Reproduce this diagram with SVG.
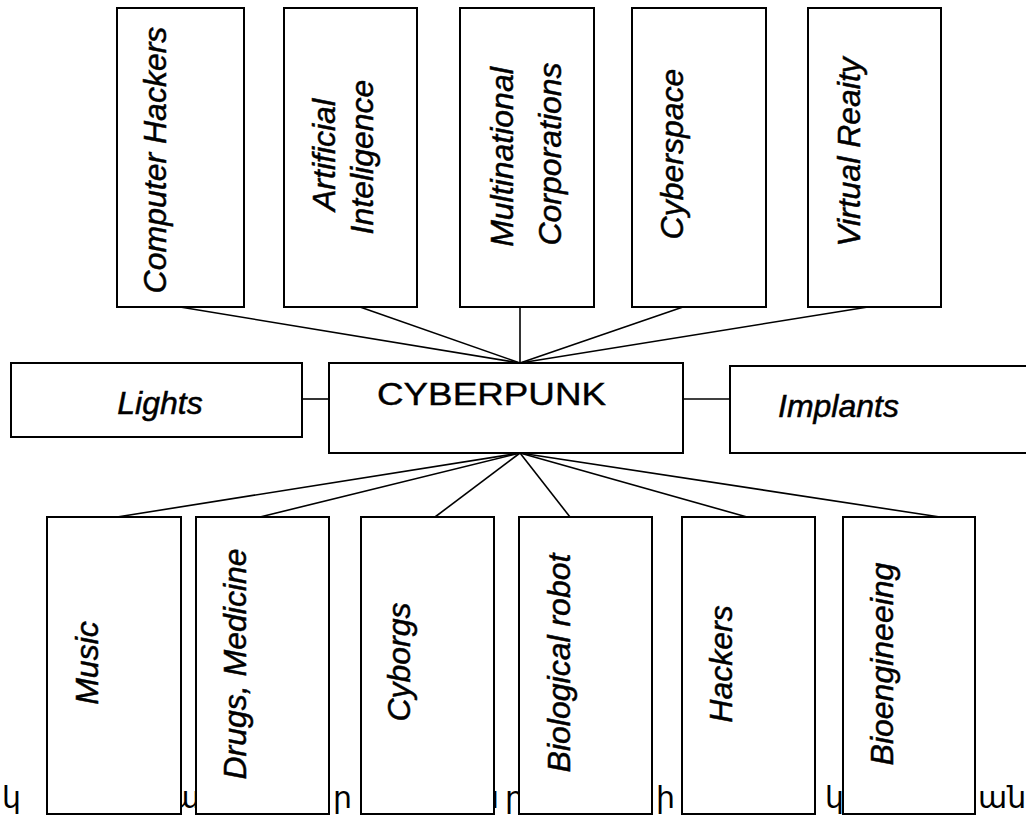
<svg xmlns="http://www.w3.org/2000/svg" width="1026" height="816" viewBox="0 0 1026 816">
  <style>
    .box { fill: #ffffff; stroke: #000000; stroke-width: 2; }
    .link { stroke: #000000; stroke-width: 1.6; fill: none; }
    .lbl { font-family: "Liberation Sans", Arial, sans-serif; font-size: 32px; font-style: italic; fill: #000000; stroke: #000000; stroke-width: 0.5; text-anchor: middle; }
    .hub { font-family: "Liberation Sans", Arial, sans-serif; font-size: 32px; fill: #000000; stroke: #000000; stroke-width: 0.4; }
    .arm { font-family: "DejaVu Sans", sans-serif; font-size: 30px; fill: #000000; }
  </style>

  <rect width="1026" height="816" fill="#ffffff"/>

  <!-- Armenian body text line running behind the lower boxes -->
  <g id="body-text" class="arm">
    <text x="2" y="808">կ</text>
    <text x="171" y="808">ա</text>
    <text x="333" y="808">ր</text>
    <text x="480" y="808">ն</text>
    <text x="505" y="808">ր</text>
    <text x="656" y="808">ի</text>
    <text x="825" y="808">կ</text>
    <text x="978" y="808">անգ</text>
  </g>

  <g id="connectors">
    <!-- top row to hub -->
    <line class="link" x1="180" y1="307" x2="520" y2="363"/>
    <line class="link" x1="360" y1="307" x2="520" y2="363"/>
    <line class="link" x1="520" y1="307" x2="520" y2="363"/>
    <line class="link" x1="683" y1="307" x2="520" y2="363"/>
    <line class="link" x1="868" y1="307" x2="520" y2="363"/>
    <!-- side nodes -->
    <line class="link" x1="302" y1="399" x2="329" y2="399"/>
    <line class="link" x1="683" y1="399" x2="730" y2="399"/>
    <!-- hub to bottom row -->
    <line class="link" x1="520" y1="453" x2="117" y2="517"/>
    <line class="link" x1="520" y1="453" x2="260" y2="517"/>
    <line class="link" x1="520" y1="453" x2="435" y2="517"/>
    <line class="link" x1="520" y1="453" x2="570" y2="517"/>
    <line class="link" x1="520" y1="453" x2="747" y2="517"/>
    <line class="link" x1="520" y1="453" x2="940" y2="517"/>
  </g>

  <!-- hub -->
  <g id="cyberpunk">
    <rect class="box" x="329" y="363" width="354" height="90"/>
    <text class="hub" x="377" y="405" textLength="229" lengthAdjust="spacingAndGlyphs">CYBERPUNK</text>
  </g>

  <g id="lights">
    <rect class="box" x="11" y="363" width="291" height="74"/>
    <text class="lbl" x="160" y="414">Lights</text>
  </g>

  <g id="implants">
    <rect class="box" x="730" y="366" width="300" height="87"/>
    <text class="lbl" x="778" y="417" style="text-anchor:start">Implants</text>
  </g>

  <!-- top row -->
  <g id="computer-hackers">
    <rect class="box" x="117" y="8" width="127" height="299"/>
    <text class="lbl" transform="translate(166,160) rotate(-90)">Computer Hackers</text>
  </g>

  <g id="artificial-inteligence">
    <rect class="box" x="284" y="8" width="133" height="299"/>
    <text class="lbl" transform="translate(335,155) rotate(-90)">Artificial</text>
    <text class="lbl" transform="translate(373,157) rotate(-90)">Inteligence</text>
  </g>

  <g id="multinational-corporations">
    <rect class="box" x="460" y="8" width="134" height="299"/>
    <text class="lbl" transform="translate(513,157) rotate(-90)">Multinational</text>
    <text class="lbl" transform="translate(561,154) rotate(-90)">Corporations</text>
  </g>

  <g id="cyberspace">
    <rect class="box" x="632" y="8" width="134" height="299"/>
    <text class="lbl" transform="translate(683,154) rotate(-90)">Cyberspace</text>
  </g>

  <g id="virtual-reaity">
    <rect class="box" x="808" y="8" width="133" height="299"/>
    <text class="lbl" transform="translate(860,152) rotate(-90)">Virtual Reaity</text>
  </g>

  <!-- bottom row -->
  <g id="music">
    <rect class="box" x="47" y="517" width="134" height="297"/>
    <text class="lbl" transform="translate(98,663) rotate(-90)">Music</text>
  </g>

  <g id="drugs-medicine">
    <rect class="box" x="196" y="517" width="133" height="297"/>
    <text class="lbl" transform="translate(246,664) rotate(-90)">Drugs, Medicine</text>
  </g>

  <g id="cyborgs">
    <rect class="box" x="361" y="517" width="133" height="297"/>
    <text class="lbl" transform="translate(410,662) rotate(-90)">Cyborgs</text>
  </g>

  <g id="biological-robot">
    <rect class="box" x="519" y="517" width="133" height="297"/>
    <text class="lbl" transform="translate(570,663) rotate(-90)">Biological robot</text>
  </g>

  <g id="hackers">
    <rect class="box" x="682" y="517" width="133" height="297"/>
    <text class="lbl" transform="translate(732,664) rotate(-90)">Hackers</text>
  </g>

  <g id="bioengineeing">
    <rect class="box" x="843" y="517" width="132" height="297"/>
    <text class="lbl" transform="translate(893,664) rotate(-90)">Bioengineeing</text>
  </g>
</svg>
